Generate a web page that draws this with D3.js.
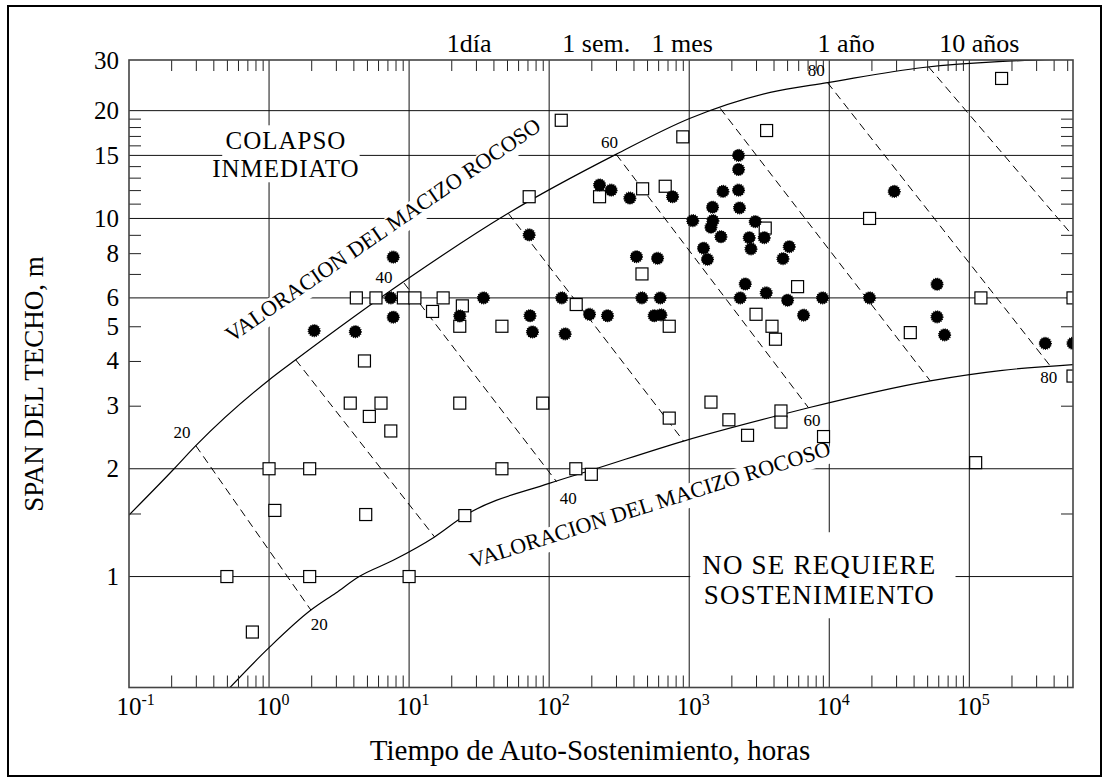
<!DOCTYPE html>
<html>
<head>
<meta charset="utf-8">
<script src="https://cdn.jsdelivr.net/npm/d3@7"></script>
<style>
  body { margin: 0; background: #fff; }
  text { font-family: "Liberation Serif", "Times New Roman", serif; fill: #000; }
</style>
</head>
<body>
<div id="container"></div>
<script>
// open squares: [tiempo (horas), span (m)]
const openPts = [
  [4.2, 6.0], [5.8, 6.0], [9.1, 6.0], [11, 6.0], [17.5, 6.0], [14.7, 5.5], [24, 5.7], [23, 5.0],
  [46, 5.0], [4.8, 4.0], [3.8, 3.05], [6.3, 3.05], [5.2, 2.8], [7.4, 2.55], [23, 3.05], [90, 3.05],
  [1.0, 2.0], [1.95, 2.0], [46, 2.0], [155, 2.0], [200, 1.93], [1.1, 1.53], [4.9, 1.49], [25, 1.48],
  [0.5, 1.0], [1.95, 1.0], [10, 1.0], [0.76, 0.70], [122, 18.8], [72, 11.5], [229, 11.5], [465, 12.1],
  [674, 12.3], [900, 16.9], [3570, 17.6], [3490, 9.4], [460, 7.0], [156, 5.75], [720, 5.0], [720, 2.77],
  [1430, 3.07], [1920, 2.74], [2610, 2.48], [4520, 2.9], [4520, 2.7], [3000, 5.4], [3900, 5.0], [4130, 4.6],
  [5940, 6.45], [37900, 4.8], [121000, 6.0], [550000, 6.0], [550000, 3.63], [9100, 2.46], [111000, 2.08],
  [19400, 10.0], [170000, 24.6]
];

// solid circles: [tiempo (horas), span (m)]
const solidPts = [
  [2.1, 4.86], [4.13, 4.83], [7.4, 6.0], [7.7, 5.3], [7.7, 7.8], [23, 5.34], [34, 6.0], [72, 9.0],
  [73, 5.35], [76, 4.82], [123, 6.0], [130, 4.76], [194, 5.4], [261, 5.35], [229, 12.4], [277, 12.0],
  [377, 11.4], [420, 7.82], [594, 7.74], [459, 6.0], [621, 6.0], [562, 5.35], [628, 5.38], [760, 11.5],
  [1060, 9.86], [1265, 8.26], [1350, 7.69], [1467, 10.75], [1477, 9.86], [1429, 9.45], [1684, 8.89], [1741, 11.9],
  [2250, 15.0], [2250, 13.7], [2250, 12.0], [2287, 10.7], [2960, 9.8], [2683, 8.84], [3433, 8.84], [2760, 8.22],
  [5180, 8.34], [4670, 7.72], [2512, 6.56], [2313, 6.0], [3548, 6.2], [5036, 5.91], [8955, 6.0], [6550, 5.37],
  [19400, 6.0], [29100, 11.9], [58800, 6.55], [58800, 5.31], [66600, 4.73], [349000, 4.48], [550000, 4.48]
];

// limit curves of the rock mass rating
const upperCurve = [
  [0.1, 1.485], [0.21, 2.0], [0.30, 2.32], [1.0, 3.54], [1.55, 4.03], [9.5, 6.73], [51, 10.34],
  [300, 15.1], [1016, 19.05], [3790, 22.5], [9720, 23.95], [46700, 26.4], [556000, 27.9]
];
const lowerCurve = [
  [0.5, 0.48], [1.0, 0.633], [1.99, 0.806], [3.0, 0.90], [4.4, 1.0], [7.7, 1.11], [15.2, 1.29],
  [25, 1.48], [100, 1.82], [207, 1.99], [911, 2.39], [4520, 2.83], [7110, 2.96], [52600, 3.52],
  [166000, 3.76], [556000, 3.91]
];

// dashed RMR lines 20..90: [start, end]
const rmrLines = [
  [[0.30, 2.32], [1.99, 0.806]],
  [[1.55, 4.03], [15.2, 1.29]],
  [[9.2, 6.6], [113, 1.84]],
  [[51, 10.34], [911, 2.39]],
  [[301, 15.1], [7110, 2.96]],
  [[1665, 20.3], [52600, 3.52]],
  [[9720, 23.95], [379000, 3.87]],
  [[51200, 26.5], [556000, 8.89]]
];
const rmrLabelText = ["20", "20", "40", "40", "60", "60", "80", "80"];
const rmrLabelT = [0.239, 2.28, 6.63, 137, 270, 7516, 8075, 368500];
const rmrLabelS = [2.53, 0.737, 6.88, 1.66, 16.3, 2.74, 26.0, 3.60];

// axes
const xMin = 0.1, xMax = 5.5e5, yMin = 0.49, yMax = 27.7;
const xDecadeExp = [-1, 0, 1, 2, 3, 4, 5];
const xGridVals = [1, 10, 100, 1000, 10000, 100000];
const yGridVals = [1, 2, 6, 10, 15, 20];
const yTickVals = [1, 2, 3, 4, 5, 6, 8, 10, 15, 20, 27.7];
const yTickText = ["1", "2", "3", "4", "5", "6", "8", "10", "15", "20", "30"];
const yMinorLeft = [1.5, 3, 4, 5, 7, 8, 9, 11, 12, 13, 14, 16, 17, 18, 19];
const yMinorRight = [1.5, 3, 5, 7, 8, 9, 11, 12, 13, 14, 16, 17, 18, 19];
const timeLabels = ["1día", "1 sem.", "1 mes", "1 año", "10 años"];
const timeLabelPos = [26.8, 217, 891, 13200, 117900];

const width = 1110, height = 783;
const serif = '"Liberation Serif", "Times New Roman", serif';

const svg = d3.select("#container").append("svg")
  .attr("width", width).attr("height", height);

const x = d3.scaleLog().domain([xMin, xMax]).range([129, 1073]);
const y = d3.scaleLog().domain([yMin, yMax]).range([687.5, 60]);
const [x0, x1] = x.range();
const [y0, y1] = y.range();

// outer frame
svg.append("rect")
  .attr("x", 8).attr("y", 6).attr("width", 1093).attr("height", 770)
  .attr("fill", "none").attr("stroke", "#000").attr("stroke-width", 2);

svg.append("clipPath").attr("id", "plotclip")
  .append("rect").attr("x", x0).attr("y", y1).attr("width", x1 - x0).attr("height", y0 - y1);

// gridlines
const grid = svg.append("g").attr("stroke", "#111").attr("stroke-width", 1);
grid.selectAll("line.h").data(yGridVals).join("line").attr("class", "h")
  .attr("x1", x0).attr("x2", x1).attr("y1", d => y(d)).attr("y2", d => y(d));
grid.selectAll("line.v").data(xGridVals).join("line").attr("class", "v")
  .attr("x1", d => x(d)).attr("x2", d => x(d)).attr("y1", y1).attr("y2", y0);

// white boxes behind labels go here
const maskG = svg.append("g").attr("fill", "#fff");

const plotG = svg.append("g").attr("clip-path", "url(#plotclip)");

const line = d3.line().x(d => x(d[0])).y(d => y(d[1])).curve(d3.curveMonotoneX);
plotG.append("path").datum(upperCurve).attr("d", line)
  .attr("fill", "none").attr("stroke", "#000").attr("stroke-width", 1.2);
plotG.append("path").datum(lowerCurve).attr("d", line)
  .attr("fill", "none").attr("stroke", "#000").attr("stroke-width", 1.2);

plotG.selectAll("line.rmr").data(rmrLines).join("line").attr("class", "rmr")
  .attr("x1", d => x(d[0][0])).attr("y1", d => y(d[0][1]))
  .attr("x2", d => x(d[1][0])).attr("y2", d => y(d[1][1]))
  .attr("stroke", "#000").attr("stroke-width", 1).attr("stroke-dasharray", "8 5");

// points
const sq = 12;
plotG.selectAll("rect.open").data(openPts).join("rect").attr("class", "open")
  .attr("x", d => x(d[0]) - sq / 2).attr("y", d => y(d[1]) - sq / 2)
  .attr("width", sq).attr("height", sq)
  .attr("fill", "#fff").attr("stroke", "#000").attr("stroke-width", 1.2);

plotG.selectAll("circle").data(solidPts).join("circle")
  .attr("cx", d => x(d[0])).attr("cy", d => y(d[1])).attr("r", 5.9)
  .attr("fill", "#000").attr("stroke", "#000")
  .attr("stroke-width", 1.3).attr("stroke-dasharray", "1 1.1");

// minor ticks, all pointing inward
const minorX = [];
for (let e = -1; e <= 5; e++) {
  for (let k = 2; k <= 9; k++) {
    const v = k * Math.pow(10, e);
    if (v < xMax) minorX.push(v);
  }
}
const tickStyle = g => {
  g.select(".domain").remove();
  g.selectAll(".tick line").attr("stroke", "#222");
};
svg.append("g").attr("transform", `translate(0,${y0})`)
  .call(d3.axisBottom(x).tickValues(minorX).tickSize(-12).tickFormat(""))
  .call(tickStyle);
svg.append("g").attr("transform", `translate(0,${y1})`)
  .call(d3.axisTop(x).tickValues(minorX).tickSize(-11).tickFormat(""))
  .call(tickStyle);
svg.append("g").attr("transform", `translate(${x0},0)`)
  .call(d3.axisLeft(y).tickValues(yMinorLeft).tickSize(-12).tickFormat(""))
  .call(tickStyle);
svg.append("g").attr("transform", `translate(${x1},0)`)
  .call(d3.axisRight(y).tickValues(yMinorRight).tickSize(-12).tickFormat(""))
  .call(tickStyle);

// plot border
svg.append("rect")
  .attr("x", x0).attr("y", y1).attr("width", x1 - x0).attr("height", y0 - y1)
  .attr("fill", "none").attr("stroke", "#444").attr("stroke-width", 1.6);

// y tick labels
svg.append("g").attr("transform", `translate(${x0},0)`)
  .call(d3.axisLeft(y).tickValues(yTickVals).tickSize(0).tickPadding(10)
    .tickFormat((d, i) => yTickText[i]))
  .call(g => g.select(".domain").remove())
  .call(g => g.selectAll("text").attr("font-family", serif).attr("font-size", 25).attr("fill", "#000"));

// x tick labels with exponents
const xl = svg.append("g").attr("font-size", 25);
xl.selectAll("text").data(xDecadeExp).join("text")
  .attr("x", d => x(Math.pow(10, d)) - 12.5).attr("y", y0 + 27)
  .text("10")
  .append("tspan").attr("dy", -10).attr("font-size", 16).text(d => d);

// time labels above the plot
svg.append("g").selectAll("text").data(timeLabels).join("text")
  .attr("x", (d, i) => x(timeLabelPos[i])).attr("y", 52)
  .attr("text-anchor", "middle").attr("font-size", 26)
  .text(d => d);

// axis titles
svg.append("text")
  .attr("transform", "translate(43,384) rotate(-90)")
  .attr("text-anchor", "middle").attr("font-size", 27)
  .text("SPAN DEL TECHO, m");
svg.append("text")
  .attr("x", 590).attr("y", 760)
  .attr("text-anchor", "middle").attr("font-size", 29)
  .text("Tiempo de Auto-Sostenimiento, horas");

// RMR numbers
svg.append("g").selectAll("text").data(rmrLabelText).join("text")
  .attr("x", (d, i) => x(rmrLabelT[i])).attr("y", (d, i) => y(rmrLabelS[i]))
  .attr("dy", "0.35em").attr("text-anchor", "middle").attr("font-size", 17)
  .text(d => d);

// two-line region labels with white backing
function boxedLines(lines, t, s, lineGap, size, spacing, pad) {
  const g = svg.append("g").attr("font-size", size).attr("letter-spacing", spacing);
  g.selectAll("text").data(lines).join("text")
    .attr("x", x(t)).attr("y", (d, i) => y(s) + i * lineGap)
    .attr("text-anchor", "middle").text(d => d);
  const b = g.node().getBBox();
  maskG.append("rect")
    .attr("x", b.x - pad[3]).attr("y", b.y - pad[0])
    .attr("width", b.width + pad[1] + pad[3]).attr("height", b.height + pad[0] + pad[2]);
}
boxedLines(["COLAPSO", "INMEDIATO"], 1.32, 15.6, 28, 25, 1, [2, 0, 0, -10]);
boxedLines(["NO SE REQUIERE", "SOSTENIMIENTO"], 8500, 1.015, 30, 27, 1.2, [18, 19, 8, 12]);

function rotatedLabel(txt, t, s, angle, size) {
  const g = svg.append("g")
    .attr("transform", `translate(${x(t)},${y(s)}) rotate(${angle})`);
  const el = g.append("text").attr("text-anchor", "middle").attr("font-size", size).text(txt);
  const b = el.node().getBBox();
  maskG.append("rect")
    .attr("transform", `translate(${x(t)},${y(s)}) rotate(${angle})`)
    .attr("x", b.x).attr("y", -16).attr("width", b.width).attr("height", 24);
}
rotatedLabel("VALORACION DEL MACIZO ROCOSO", 6.96, 8.93, -34.5, 22);
rotatedLabel("VALORACION DEL MACIZO ROCOSO", 544, 1.52, -17.5, 22);
</script>
</body>
</html>
